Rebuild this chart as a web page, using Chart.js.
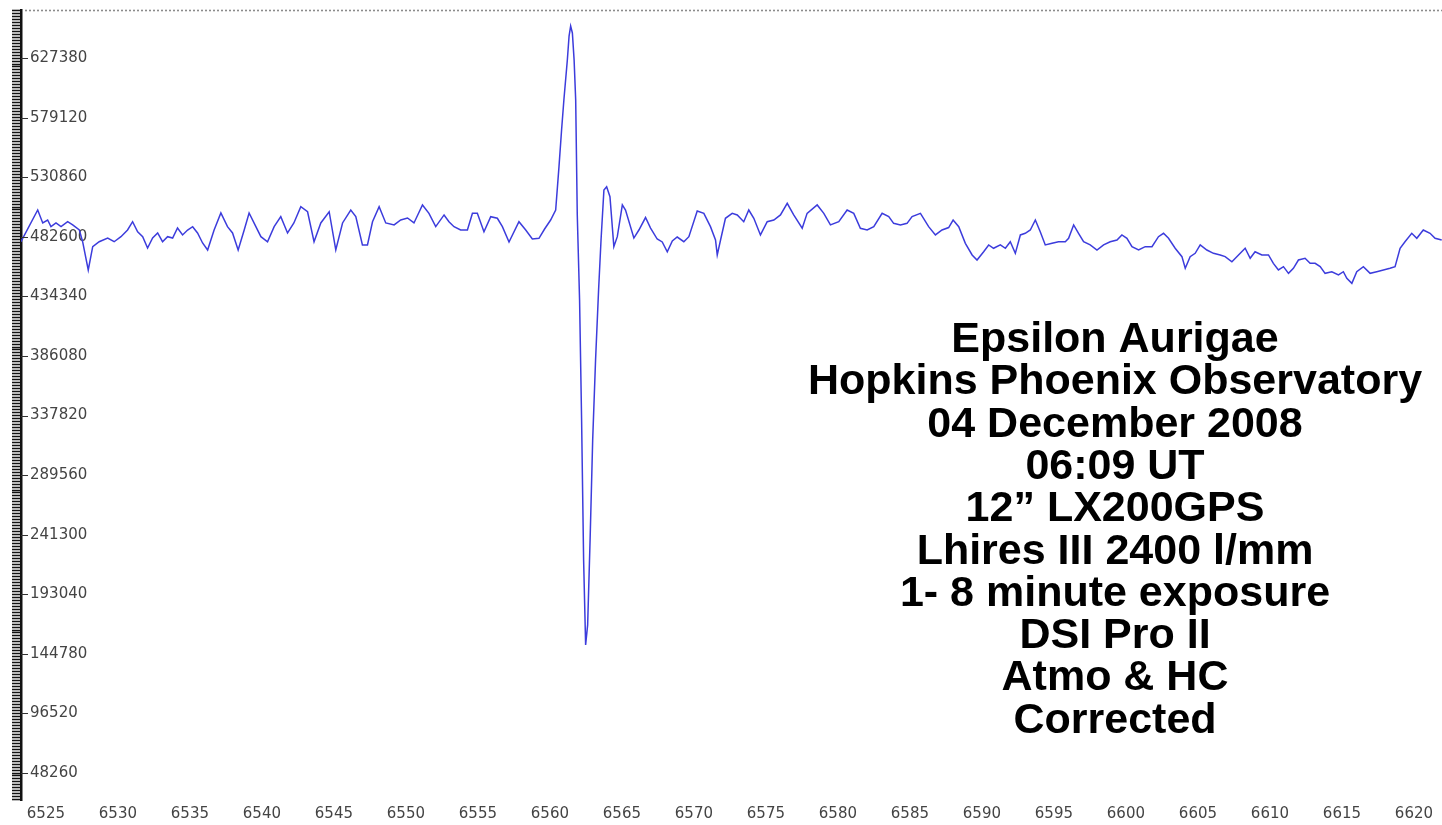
<!DOCTYPE html>
<html>
<head>
<meta charset="utf-8">
<script src="https://cdn.jsdelivr.net/npm/chart.js@4.4.1/dist/chart.umd.min.js"></script>
<style>
  html, body { margin: 0; padding: 0; background: #ffffff; overflow: hidden; }
  #wrap { position: relative; width: 1442px; height: 825px; }
</style>
</head>
<body>
<div id="wrap"><canvas id="c"></canvas></div>
<script>
// ---- data (wavelength in Angstrom, relative flux) ----
const wavelength = [
6523.27,6524.43,6524.78,6525.12,6525.35,6525.70,6526.05,6526.51,6526.86,6527.32,
6527.55,6527.94,6528.25,6528.70,6529.29,6529.74,6530.21,6530.67,6531.02,6531.37,
6531.72,6532.06,6532.41,6532.76,6533.10,6533.45,6533.80,6534.14,6534.49,6534.84,
6535.19,6535.53,6535.88,6536.23,6536.68,6537.15,6537.61,6537.96,6538.35,6538.77,
6539.11,6539.58,6539.93,6540.39,6540.85,6541.31,6541.78,6542.22,6542.70,6543.17,
6543.62,6544.09,6544.67,6545.13,6545.60,6546.17,6546.52,6546.98,6547.33,6547.68,
6548.14,6548.60,6549.18,6549.64,6550.11,6550.56,6551.15,6551.60,6552.07,6552.65,
6552.99,6553.34,6553.80,6554.27,6554.62,6554.96,6555.42,6555.89,6556.35,6556.70,
6557.16,6557.85,6558.32,6558.78,6559.24,6559.63,6560.05,6560.40,6560.63,6560.81,
6560.97,6561.21,6561.33,6561.44,6561.56,6561.68,6561.79,6561.90,6562.06,6562.20,
6562.34,6562.48,6562.62,6562.79,6562.97,6563.17,6563.38,6563.55,6563.75,6563.94,
6564.17,6564.44,6564.68,6565.03,6565.25,6565.83,6566.18,6566.64,6566.99,6567.45,
6567.80,6568.15,6568.50,6568.84,6569.30,6569.65,6570.23,6570.69,6571.15,6571.50,
6571.62,6571.85,6572.19,6572.66,6573.01,6573.46,6573.81,6574.16,6574.62,6575.09,
6575.55,6576.01,6576.48,6576.93,6577.52,6577.86,6578.56,6579.02,6579.48,6580.06,
6580.64,6581.10,6581.56,6582.03,6582.49,6583.07,6583.53,6583.87,6584.34,6584.80,
6585.15,6585.73,6586.30,6586.77,6587.23,6587.69,6588.00,6588.39,6588.85,6589.32,
6589.66,6590.12,6590.47,6590.81,6591.28,6591.63,6591.97,6592.32,6592.67,6593.01,
6593.36,6593.71,6594.05,6594.40,6594.87,6595.32,6595.79,6596.02,6596.37,6596.71,
6597.06,6597.52,6597.99,6598.45,6598.91,6599.38,6599.72,6600.07,6600.42,6600.88,
6601.34,6601.81,6602.26,6602.61,6602.96,6603.42,6603.89,6604.12,6604.46,6604.81,
6605.16,6605.62,6606.08,6606.55,6606.89,6607.36,6607.82,6608.28,6608.63,6608.97,
6609.44,6609.90,6610.24,6610.59,6610.94,6611.29,6611.63,6611.98,6612.44,6612.79,
6613.14,6613.49,6613.83,6614.30,6614.76,6615.10,6615.34,6615.69,6616.03,6616.49,
6616.96,6617.42,6617.88,6618.34,6618.69,6619.04,6619.38,6619.85,6620.20,6620.65,
6621.12,6621.47,6621.93
];
const flux = [
478600,504300,493800,496200,490800,493800,490800,494800,492200,488100,
478600,455700,474600,478600,481600,478600,482700,488100,494800,486700,
482700,473500,481600,485700,478600,482700,481600,489700,484100,488100,
490800,485700,477600,471900,488100,501900,490800,485700,471900,488100,
501900,490800,482700,478600,490800,498900,485700,493800,507000,502900,
478600,493800,502900,471900,493800,504300,498900,476000,476000,494800,
507000,493800,492200,496200,497800,493800,508400,501600,490800,500300,
494800,490800,488100,488100,501600,501600,486700,498900,497600,490800,
478400,494800,488100,480800,481400,488900,496200,504300,539400,569100,
593400,625800,645200,653300,647700,625800,593400,500300,431400,334200,
220800,152000,168200,237000,318000,382800,439500,480000,520500,523200,
515100,474600,482700,508400,504300,481600,488100,498200,489700,480800,
478400,470500,479200,482400,478600,482700,503500,501600,490800,480000,
467900,480000,497600,501600,500300,494800,504300,497600,484100,494800,
496200,500300,509700,500300,489500,501600,508400,501600,492200,494800,
504300,501600,489500,488100,490800,501600,498900,493500,492200,493500,
498900,501600,490800,484100,488100,490100,496200,490800,477300,467900,
463800,470500,476000,473300,476000,473300,478600,469200,484100,485400,
488100,496200,486700,476000,477300,478600,478600,481400,492200,485400,
478600,476000,471900,476000,478600,480000,484100,481400,474600,471900,
474600,474600,482700,485400,481400,473300,466500,457100,466500,469200,
476000,471900,469200,467900,466500,462400,467900,473300,465200,470500,
467900,467900,461100,455700,458400,453000,457100,463800,465200,461100,
461100,458400,453000,454300,451700,454300,449000,444900,454300,458400,
453000,454300,455700,457100,458400,473300,478600,485400,481400,488100,
485400,481400,480000
];
const xTickValues = [6525,6530,6535,6540,6545,6550,6555,6560,6565,6570,6575,6580,6585,6590,6595,6600,6605,6610,6615,6620];
const yMajorStep = 48260;
const yMinorPerMajor = 20;
const xRange = [6523.27, 6621.95];
const yRange = [26400, 666300];
const annotationLines = [
  'Epsilon Aurigae',
  'Hopkins Phoenix Observatory',
  '04 December 2008',
  '06:09 UT',
  '12\u201D LX200GPS',
  'Lhires III 2400 l/mm',
  '1- 8 minute exposure',
  'DSI Pro II',
  'Atmo & HC',
  'Corrected'
];

// ---- drawing ----
const minorStep = yMajorStep / yMinorPerMajor;

const textBlockPlugin = {
  id: 'textBlock',
  afterDraw(chart) {
    const ctx = chart.ctx;
    ctx.save();
    ctx.fillStyle = '#000000';
    ctx.font = 'bold 43px "Liberation Sans", Arial, sans-serif';
    ctx.textAlign = 'center';
    ctx.textBaseline = 'alphabetic';
    annotationLines.forEach((t, i) => {
      ctx.fillText(t, 1115, 352 + i * 42.3);
    });
    ctx.restore();
  }
};

const frameDecorPlugin = {
  id: 'frameDecor',
  afterDraw(chart) {
    const ys = chart.scales.y;
    const ca = chart.chartArea;
    const ctx = chart.ctx;
    ctx.save();
    // dotted top border
    ctx.strokeStyle = '#8c8c8c';
    ctx.lineWidth = 1.6;
    ctx.setLineDash([2, 2]);
    ctx.beginPath();
    ctx.moveTo(ca.left + 4, ca.top + 0.5);
    ctx.lineTo(chart.width, ca.top + 0.5);
    ctx.stroke();
    ctx.setLineDash([]);
    // short inner marks at labelled ticks
    ctx.strokeStyle = '#333333';
    ctx.lineWidth = 1;
    ys.ticks.forEach(t => {
      const k = Math.round(t.value / minorStep);
      if (k % yMinorPerMajor === 0) {
        const py = Math.round(ys.getPixelForValue(t.value)) + 0.5;
        ctx.beginPath();
        ctx.moveTo(ca.left, py);
        ctx.lineTo(ca.left + 7, py);
        ctx.stroke();
      }
    });
    ctx.restore();
  }
};

new Chart(document.getElementById('c'), {
  type: 'line',
  data: {
    datasets: [{
      data: wavelength.map((w, i) => ({ x: w, y: flux[i] })),
      borderColor: '#3c3cdc',
      borderWidth: 1.5,
      pointRadius: 0,
      tension: 0,
      fill: false
    }]
  },
  options: {
    responsive: true,
    maintainAspectRatio: false,
    animation: false,
    parsing: false,
    layout: { padding: { top: 10, left: 0, right: 0, bottom: 0 } },
    plugins: { legend: { display: false }, tooltip: { enabled: false }, title: { display: false } },
    scales: {
      x: {
        type: 'linear',
        position: 'bottom',
        min: xRange[0],
        max: xRange[1],
        afterBuildTicks(scale) { scale.ticks = xTickValues.map(v => ({ value: v })); },
        afterFit(scale) { scale.height = 25; scale.paddingLeft = 0; scale.paddingRight = 0; },
        grid: { display: false, drawTicks: false },
        border: { display: false },
        ticks: {
          autoSkip: false,
          maxRotation: 0,
          padding: 5,
          color: '#444444',
          font: { family: '"DejaVu Sans", sans-serif', size: 15 },
          callback: v => String(v)
        }
      },
      y: {
        type: 'linear',
        position: 'left',
        min: yRange[0],
        max: yRange[1],
        afterBuildTicks(scale) {
          const t = [];
          const k0 = Math.ceil(scale.min / minorStep);
          const k1 = Math.floor(scale.max / minorStep);
          for (let k = k0; k <= k1; k++) t.push({ value: k * minorStep });
          scale.ticks = t;
        },
        afterFit(scale) { scale.width = 21; scale.paddingTop = 0; scale.paddingBottom = 0; },
        grid: {
          display: true,
          drawOnChartArea: false,
          drawTicks: true,
          tickLength: 9,
          tickColor: '#111111',
          tickWidth: 1.6
        },
        border: { display: true, color: '#111111', width: 2.5 },
        ticks: {
          autoSkip: false,
          mirror: true,
          padding: 9,
          color: '#444444',
          font: { family: '"DejaVu Sans", sans-serif', size: 15 },
          callback: v => {
            const k = Math.round(v / minorStep);
            return k % yMinorPerMajor === 0 ? String(k * minorStep) : '';
          }
        }
      }
    }
  },
  plugins: [textBlockPlugin, frameDecorPlugin]
});
</script>
</body>
</html>
